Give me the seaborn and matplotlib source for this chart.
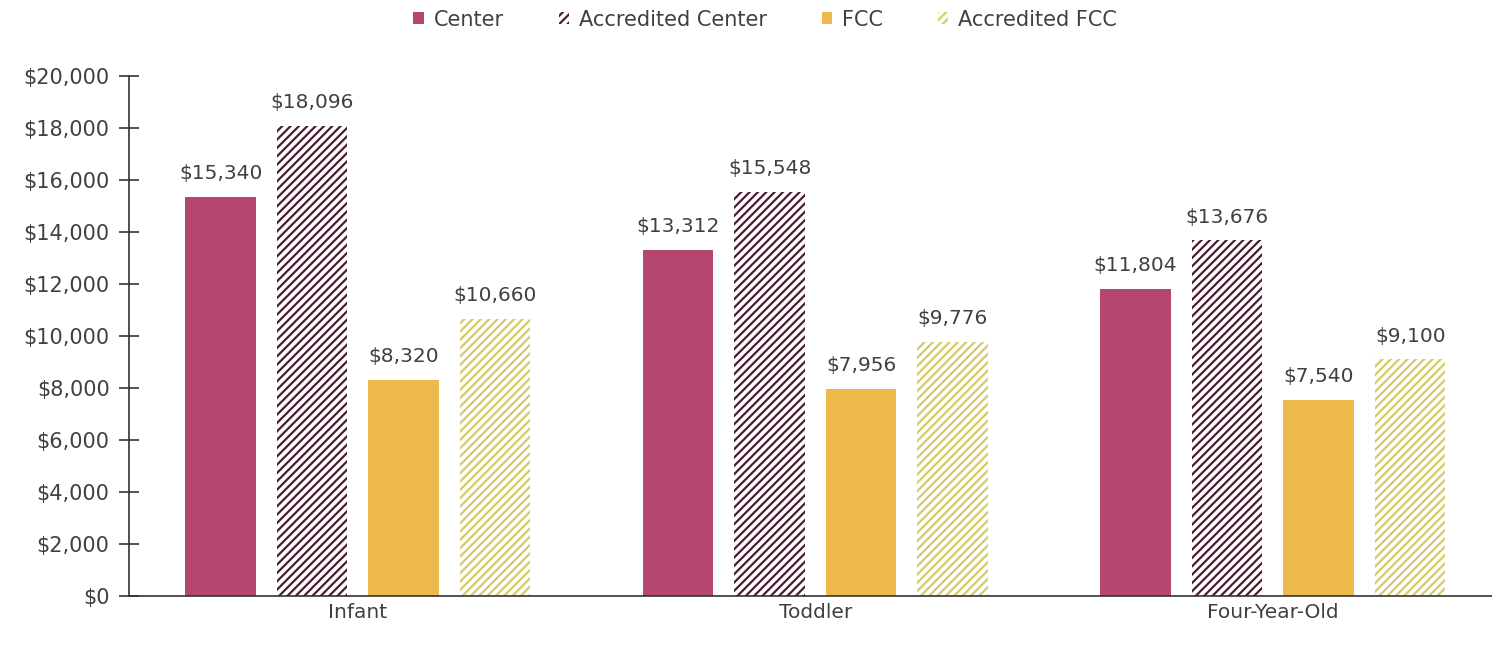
import matplotlib
matplotlib.use("Agg")
import matplotlib.pyplot as plt
import matplotlib.patches as mpatches
import pandas as pd
import seaborn as sns

categories = ["Infant", "Toddler", "Four-Year-Old"]
series = ["Center", "Accredited Center", "FCC", "Accredited FCC"]
center = [15340, 13312, 11804]
acc_center = [18096, 15548, 13676]
fcc = [8320, 7956, 7540]
acc_fcc = [10660, 9776, 9100]
yticks = list(range(0, 20001, 2000))

fill_colors = ["#B4466F", "#ffffff", "#EDB94C", "#ffffff"]
hatch_colors = [None, "#4A1D33", None, "#D6CB6A"]
text_color = "#404040"

sns.set_style("white")
plt.rcParams["font.family"] = ["DejaVu Sans"]
plt.rcParams["hatch.linewidth"] = 1.6

rows = []
for s, vals in zip(series, [center, acc_center, fcc, acc_fcc]):
    for c, v in zip(categories, vals):
        rows.append({"category": c, "series": s, "value": v})
df = pd.DataFrame(rows)

fig = plt.figure(figsize=(14.92, 6.5), dpi=100)
ax = fig.add_axes([0.0865, 0.083, 0.92, 0.8])

sns.barplot(data=df, x="category", y="value", hue="series", order=categories,
            hue_order=series, palette=fill_colors, width=0.8, gap=0.23,
            saturation=1, linewidth=0, legend=False, ax=ax)

for i, cont in enumerate(ax.containers):
    for bar in cont:
        if hatch_colors[i]:
            bar.set_hatch("////")
            bar.set_edgecolor(hatch_colors[i])
            bar.set_linewidth(0)
    ax.bar_label(cont, labels=[f"${v:,.0f}" for v in cont.datavalues],
                 padding=10, fontsize=14.5, color=text_color)

ax.set_ylim(0, 20000)
ax.set_xlim(-0.5, 2.5)
ax.set_yticks(yticks)
ax.set_yticklabels([f"${v:,.0f}" for v in yticks], fontsize=15, color=text_color)
ax.tick_params(axis="y", left=True, direction="inout", length=14, width=1.2,
               color="#333333", pad=7)
ax.tick_params(axis="x", bottom=False, length=0, labelsize=14.5,
               labelcolor=text_color, pad=5)
ax.set_xlabel("")
ax.set_ylabel("")
sns.despine(ax=ax)
for sp in ["left", "bottom"]:
    ax.spines[sp].set_color("#333333")
    ax.spines[sp].set_linewidth(1.2)

handles = []
for i, s in enumerate(series):
    if hatch_colors[i]:
        handles.append(mpatches.Patch(facecolor="white", edgecolor=hatch_colors[i],
                                      hatch="////", linewidth=0, label=s))
    else:
        handles.append(mpatches.Patch(facecolor=fill_colors[i], linewidth=0, label=s))
fig.legend(handles=handles, loc="center", bbox_to_anchor=(0.513, 0.97), ncol=4,
           frameon=False, fontsize=15, handlelength=0.5, handleheight=0.5,
           columnspacing=2.6, handletextpad=0.5, labelcolor=text_color)

fig.savefig("out.png", dpi=100)
